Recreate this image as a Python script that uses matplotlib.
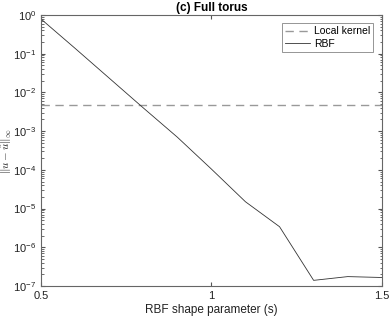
import matplotlib
matplotlib.use("Agg")
import matplotlib.pyplot as plt
import numpy as np

plt.rcParams['font.family'] = ['Liberation Sans', 'DejaVu Sans']
plt.rcParams['mathtext.fontset'] = 'cm'

s_vals = [0.5, 0.6, 0.7, 0.8, 0.9, 1.0, 1.1, 1.2, 1.3, 1.4, 1.5]
rbf_err = [7.9e-1, 1.38e-1, 2.35e-2, 4.0e-3, 7.0e-4, 1.05e-4, 1.5e-5, 3.4e-6, 1.4e-7, 1.75e-7, 1.66e-7]
local_kernel_err = 4.7e-3
x_ticks = [0.5, 1, 1.5]
x_tick_labels = ['0.5', '1', '1.5']

fig = plt.figure(figsize=(3.9, 3.19), dpi=100)
ax = fig.add_axes([0.105, 0.1034, 0.874, 0.8496])

ax.axhline(local_kernel_err, color='#999999', linestyle=(0, (6, 4)), linewidth=1.0, label='Local kernel')
ax.plot(s_vals, rbf_err, color='#333333', linewidth=0.6, label='RBF')

ax.set_yscale('log')
ax.set_xlim(0.5, 1.5)
ax.set_ylim(1e-7, 1e0)
ax.set_xticks(x_ticks)
ax.set_xticklabels(x_tick_labels)
ax.set_yticks([10.0**k for k in range(-7, 1)])

ax.tick_params(which='both', direction='in', top=True, right=True, colors='#555555', labelcolor='#222222', labelsize=8)
ax.tick_params(which='major', length=3)
ax.tick_params(which='minor', length=1.8)
for sp in ax.spines.values():
    sp.set_color('#666666')
    sp.set_linewidth(0.8)

ax.set_xlabel('RBF shape parameter (s)', fontsize=8.5, color='#222222', labelpad=2)
ax.set_ylabel(r'$\|u-\hat{u}\|_{\infty}$', fontsize=8, color='#222222')
ax.yaxis.set_label_coords(-0.078, 0.5)
ax.set_title('(c) Full torus', fontsize=8.5, fontweight='bold', pad=3)

leg = ax.legend(loc='upper right', fontsize=7.5, frameon=True, fancybox=False, edgecolor='#666666',
                handlelength=2.4, borderpad=0.3, labelspacing=0.2, handletextpad=0.4, borderaxespad=0.8)
leg.get_frame().set_linewidth(0.6)

fig.savefig('out.png', dpi=100)
